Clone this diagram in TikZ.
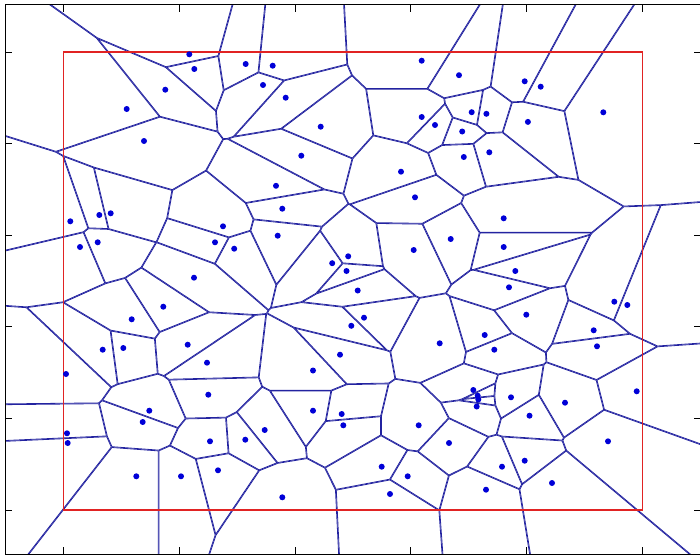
\documentclass[tikz,border=0pt]{standalone}
\usepackage{tikz}

\definecolor{edgeblue}{RGB}{35,35,160}
\definecolor{siteblue}{RGB}{0,0,215}
\definecolor{boxred}{RGB}{225,35,35}
\tikzset{
  cell edge/.style={draw=edgeblue, line width=0.8pt},
  site/.style={circle, fill=siteblue, inner sep=0pt, minimum size=3pt},
  unit box/.style={draw=boxred, line width=0.9pt},
  axis line/.style={draw=black, line width=0.5pt},
}
% sites, in pixels of the plot (y downwards)
\def\sites{189.3/54.3, 194.3/69, 165.3/89.7, 126.7/109, 144/141,
  245.7/64, 272.7/65.7, 263/85, 285.7/97.7, 320.7/126.7, 301.3/155.7,
  276/185.8, 421.7/60.7, 459/75.2, 421.7/117, 435/125, 462.2/131.5,
  463.8/157, 401/171.7, 524.7/81.3, 540.7/86.7, 471.7/112.2, 486.4/113.8,
  527.9/121.9, 603.3/112.3, 489.3/152.3, 70.3/221.3, 99.3/215, 110.7/213.3,
  80/247, 97.7/242.3, 223/226.3, 215/242.3, 234.2/248.7, 194/277.7,
  163.3/306.7, 131.7/319.3, 102.7/349.7, 123.3/348, 187.7/344.7, 207/362.7,
  282.3/208.7, 277.7/235.7, 415/197.3, 450.7/239, 413.7/250, 348.2/256.3,
  332.2/263.2, 346.5/271, 357.7/290.5, 364/317.7, 351.3/325.8, 340/354.7,
  439.7/343.3, 313/370.5, 503.7/218.3, 503.7/247, 515.3/271, 509/287.3,
  526.3/314.7, 614.3/301.7, 627.3/305, 593.7/330.3, 597/346.3, 484.7/335,
  494.3/349.7, 66/374, 149.3/410.7, 142.7/422, 208.3/394.7, 67/433.3,
  67.7/443, 210/441.3, 136.3/476.3, 181/476.3, 218/470.3, 313/410.7,
  341.7/414, 343.3/425.3, 264.7/430, 245.3/439.7, 418.7/425.3, 449/443,
  381.7/466.7, 407.7/476.3, 390/494, 282.3/497.3, 473.3/390, 477.7/395.7,
  478.3/399.5, 476.7/406.5, 511/397.3, 529.5/415.7, 565/402.7, 636.7/391.3,
  608/441.3, 524.7/460.7, 502/466.7, 552/483, 486/489.7}
% x and y units of the data differ
\def\aspect{1.2659}

\begin{document}
\begin{tikzpicture}[x=0.5pt,y=-0.5pt]
\useasboundingbox (0,0) rectangle (700,556);
% ---------- Voronoi cells ----------
\begin{scope}
\clip (5,5) rectangle (701,554);
\begin{scope}[yscale=1/\aspect]
\foreach \ax/\ay [count=\i] in \sites {
  \begin{scope}
  \gdef\bisectors{}
  \foreach \bx/\by [count=\j] in \sites {
    \ifnum\i=\j\relax\else
      \pgfmathsetmacro\du{\bx-\ax}
      \pgfmathsetmacro\dw{(\by-\ay)*\aspect}
      \pgfmathsetmacro\dd{veclen(\du,\dw)}
      \ifdim\dd pt<330pt
        \pgfmathsetmacro\ang{atan2(\dw,\du)}
        \pgfmathsetmacro\midu{(\ax+\bx)/2}
        \pgfmathsetmacro\midw{(\ay+\by)/2*\aspect}
        % keep the half plane on the side of site i
        \clip (\midu,\midw) ++(\ang+90:1500) -- ++(\ang+180:1500)
          -- ++(\ang-90:3000) -- ++(\ang:1500) -- cycle;
        \xdef\bisectors{\bisectors (\midu,\midw) ++(\ang+90:1500) -- ++(\ang-90:3000)}
      \fi
    \fi
  }
  \draw[cell edge] \bisectors;
  \end{scope}
}
\end{scope}
\end{scope}
% unit square
\draw[unit box] (63.5,52.3) rectangle (642.5,510);
% ---------- sites ----------
\foreach \x/\y [count=\k] in \sites
  \node[site] (s\k) at (\x,\y) {};
% ---------- axes ----------
\draw[axis line] (5,554) -- (5,5) -- (701,5);
\draw[axis line] (5,554) -- (701,554);
\foreach \tx in {63.3,179.2,295.1,410.9,526.8,642.7} {
  \draw[axis line] (\tx,5) -- ++(0,7);
  \draw[axis line] (\tx,554) -- ++(0,-7);
}
\foreach \ty in {52.3,143.8,235.4,326.9,418.5,510} {
  \draw[axis line] (5,\ty) -- ++(7,0);
  \draw[axis line] (701,\ty) -- ++(-7,0);
}
\end{tikzpicture}
\end{document}
